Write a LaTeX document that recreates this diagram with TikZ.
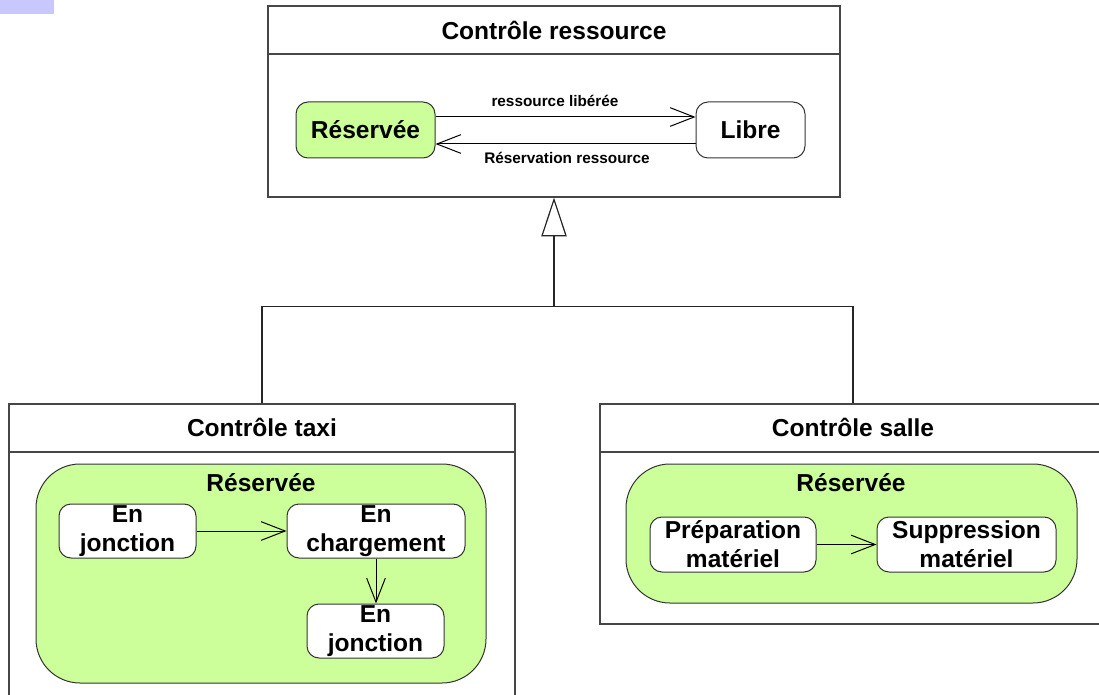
\documentclass[tikz,border=0pt]{standalone}
\usepackage{fontspec}
\setmainfont{Liberation Sans}
\usetikzlibrary{arrows.meta,fit}
\definecolor{stgreen}{RGB}{204,255,153}
\definecolor{corner}{RGB}{200,200,255}
\definecolor{edge}{RGB}{70,70,70}
\tikzset{
  big/.style={font=\fontsize{18.4}{21.75}\selectfont\bfseries},
  small/.style={font=\fontsize{11.5}{13}\selectfont\bfseries},
  sz/.style 2 args={minimum width=#1*0.75pt, minimum height=#2*0.75pt},
  classbox/.style={draw=edge, line width=0.9pt, inner sep=0pt, fill=white},
  stbox/.style={draw=black!80, line width=0.75pt, rounded corners=9pt, inner sep=0pt, fill=white, big, align=center},
  greenbox/.style={stbox, fill=stgreen},
  compbox/.style={draw=black!80, line width=0.75pt, rounded corners=33pt, inner sep=0pt, fill=stgreen},
  trans/.style={line width=0.75pt, -{Straight Barb[length=18pt,width=14pt,line width=0.75pt]}},
  gen/.style={line width=0.9pt, draw=black!85, -{Triangle[open,length=29pt,width=19pt,fill=white,line width=0.9pt]}},
}
\begin{document}
\begin{tikzpicture}[x=0.75pt,y=-0.75pt]
\useasboundingbox (0,0) rectangle (1099,695);
\fill[corner] (0,0) rectangle (54,14);

% top class
\node[classbox, fit={(268,6) (840,197)}] (top) {};
\draw[edge, line width=0.9pt] (top.west |- 0,54) -- (top.east |- 0,54);
\node[big] (toptitle) at (554,30) {Contrôle ressource};
\node[greenbox, sz={139}{56}] (resA) at (365.5,130) {Réservée};
\node[stbox, sz={109}{56}] (libre) at (750.5,130) {Libre};
\draw[trans] (resA.east |- 0,117) -- (libre.west |- 0,117);
\draw[trans] (libre.west |- 0,144) -- (resA.east |- 0,144);
\node[small] (lab1) at (555,101) {ressource libérée};
\node[small] (lab2) at (567,158) {Réservation ressource};

% taxi class
\node[classbox, fit={(9,404) (515,710)}] (taxi) {};
\draw[edge, line width=0.9pt] (taxi.west |- 0,452) -- (taxi.east |- 0,452);
\node[big] (taxititle) at (262,427) {Contrôle taxi};
\node[compbox, fit={(36,464) (486,683)}] (compT) {};
\node[big] (compTlab) at (261,483) {Réservée};
\node[stbox, sz={137}{54}] (ej1) at (127.5,531) {En\\jonction};
\node[stbox, sz={178}{54}] (ech) at (376,531) {En\\chargement};
\node[stbox, sz={137}{54}] (ej2) at (375.5,631) {En\\jonction};
\draw[trans] (ej1.east) -- (ech.west);
\draw[trans] (ech.south -| 376,0) -- (ej2.north -| 376,0);

% salle class
\node[classbox, fit={(600,404) (1106,624)}] (salle) {};
\draw[edge, line width=0.9pt] (salle.west |- 0,452) -- (salle.east |- 0,452);
\node[big] (salletitle) at (853,427) {Contrôle salle};
\node[compbox, fit={(626,464) (1077,603)}] (compS) {};
\node[big] (compSlab) at (851,483) {Réservée};
\node[stbox, sz={166}{55}] (prep) at (733,544.5) {Préparation\\matériel};
\node[stbox, sz={179}{55}] (supp) at (966.5,544.5) {Suppression\\matériel};
\draw[trans] (prep.east) -- (supp.west);

% generalisation
\draw[line width=0.9pt, draw=black!85] (taxi.north) -- ++(0,-97) coordinate (jl) -| (salle.north);
\coordinate (j) at (top.south |- jl);
\draw[gen] (j) -- (top.south);
\end{tikzpicture}
\end{document}
